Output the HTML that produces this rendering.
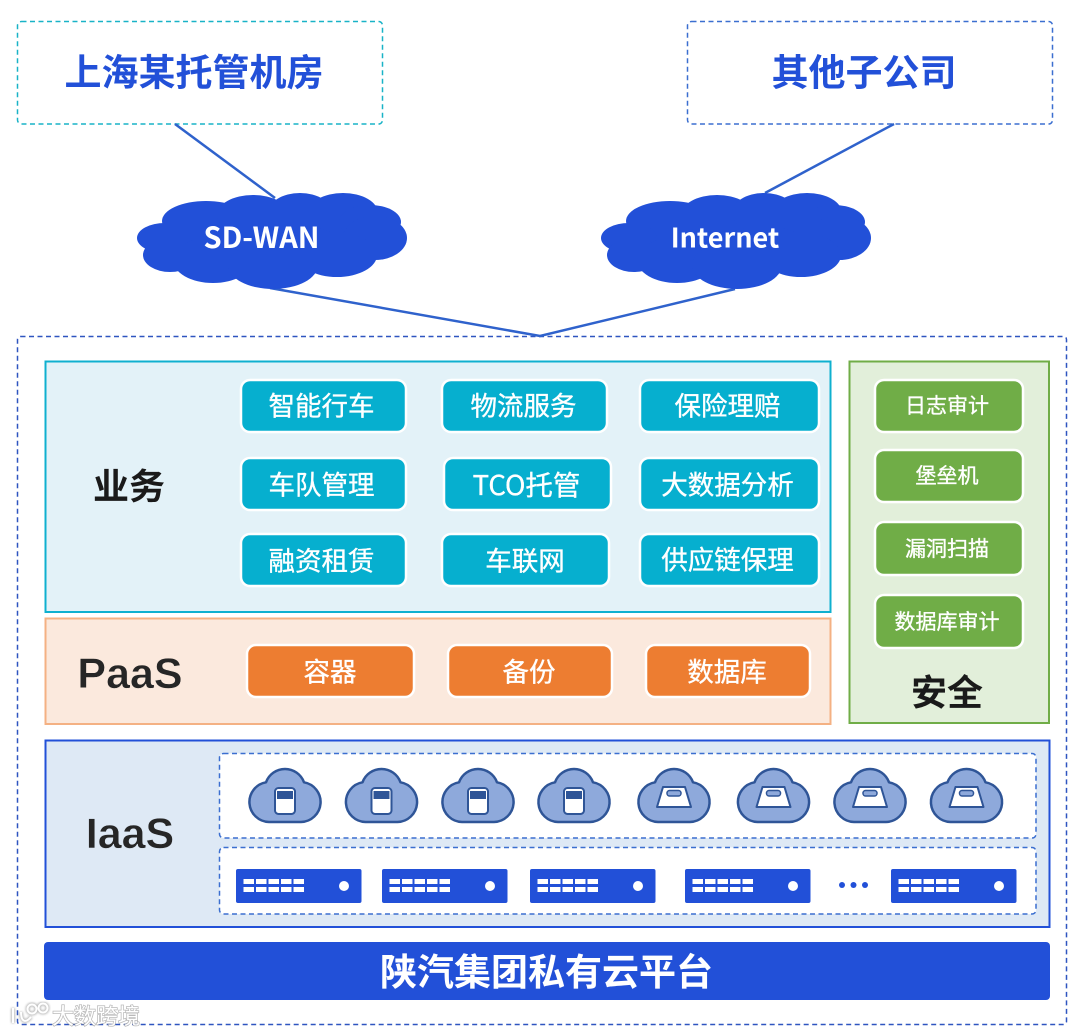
<!DOCTYPE html>
<html><head><meta charset="utf-8"><style>
html,body{margin:0;padding:0;background:#fff}
svg{display:block}
text{font-family:"Liberation Sans","Noto Sans CJK SC",sans-serif;text-anchor:middle;dominant-baseline:central}
.c{font-family:"Noto Sans CJK SC","Liberation Sans",sans-serif}
.b{font-weight:700;fill:#2250d8}
.k{font-weight:700;fill:#1a1a1a}
.w{fill:#fff}
.m{stroke:#fff;stroke-width:.35}
.p{stroke:#fff;stroke-width:2.5}
</style></head><body>
<svg width="1080" height="1036" viewBox="0 0 1080 1036" xmlns="http://www.w3.org/2000/svg">
<defs>
<g id="cloud" fill="#2250d8">
<ellipse cx="128" cy="48" rx="110" ry="35"/>
<ellipse cx="69" cy="29" rx="44" ry="20"/><ellipse cx="116" cy="23" rx="36" ry="20"/>
<ellipse cx="163" cy="21" rx="32" ry="20"/><ellipse cx="206" cy="21" rx="35" ry="20"/>
<ellipse cx="233" cy="30" rx="31" ry="17"/><ellipse cx="238" cy="46" rx="32" ry="22"/>
<ellipse cx="28" cy="46" rx="28" ry="15"/><ellipse cx="33" cy="63" rx="27" ry="17"/>
<ellipse cx="76" cy="68" rx="40" ry="23"/><ellipse cx="136" cy="73" rx="45" ry="24"/>
<ellipse cx="200" cy="63" rx="40" ry="22"/>
</g>
<path id="cl" d="M20 53A20 20 0 0 1 17 13.300A20.200 20.200 0 0 1 55 13.300A20 20 0 0 1 52 53Z" fill="#8ea9db" stroke="#2f5597" stroke-width="2.500" stroke-linejoin="round"/>
<g id="ic1"><use href="#cl"/><rect x="26" y="19" width="20" height="26" rx="3.500" fill="#fff" stroke="#2f5597" stroke-width="2"/><rect x="28" y="22" width="16" height="8" fill="#2f5597"/></g>
<g id="ic2"><use href="#cl"/><path d="M25 18H47L53 38H19Z" fill="#fff" stroke="#2f5597" stroke-width="2" stroke-linejoin="round"/><rect x="29" y="21.500" width="14" height="5.500" rx="2.500" fill="#8ea9db" stroke="#2f5597" stroke-width="1.500"/></g>
<g id="srv"><rect width="125.500" height="34" rx="2" fill="#2250d8"/>
<g fill="#fff">
<rect x="7.500" y="10" width="10.500" height="5"/><rect x="20" y="10" width="10.500" height="5"/><rect x="32.500" y="10" width="10.500" height="5"/><rect x="45" y="10" width="10.500" height="5"/><rect x="57.500" y="10" width="10.500" height="5"/>
<rect x="7.500" y="18" width="10.500" height="5"/><rect x="20" y="18" width="10.500" height="5"/><rect x="32.500" y="18" width="10.500" height="5"/><rect x="45" y="18" width="10.500" height="5"/><rect x="57.500" y="18" width="10.500" height="5"/>
<circle cx="108" cy="17" r="5"/></g></g>
<filter id="bl"><feGaussianBlur stdDeviation="1"/></filter>
</defs>

<rect x="17.500" y="21.500" width="365" height="102.500" rx="4" fill="#fff" stroke="#19b3c7" stroke-width="1.500" stroke-dasharray="5 3.500"/>
<rect x="687.500" y="21.500" width="365" height="102.500" rx="4" fill="#fff" stroke="#3b6fd0" stroke-width="1.500" stroke-dasharray="5 3.500"/>
<text class="c b" x="194" y="69.500" font-size="37">上海某托管机房</text>
<text class="c b" x="864" y="69.500" font-size="37">其他子公司</text>

<g fill="none" stroke="#2f62cc" stroke-width="2.500">
<path d="M175 124L275 198"/><path d="M894 124L765 193"/>
</g>
<rect x="17.500" y="336.500" width="1049" height="688" rx="3" fill="none" stroke="#2f55c0" stroke-width="1.500" stroke-dasharray="5 3.500"/>
<path d="M270 288L540 336L735 289" fill="none" stroke="#2f62cc" stroke-width="2.500"/>

<use href="#cloud" x="137" y="192"/>
<use href="#cloud" x="601" y="192"/>
<text class="c w" x="261.500" y="236" font-size="29" font-weight="700">SD-WAN</text>
<text class="c w" x="725" y="236" font-size="27" font-weight="700">Internet</text>

<rect x="45.500" y="361.500" width="785" height="250.500" fill="#e3f2f8" stroke="#0fb0cf" stroke-width="2"/>
<rect x="45.500" y="618.500" width="785" height="105.500" fill="#fbe9dd" stroke="#f4b183" stroke-width="2"/>
<rect x="849.500" y="361.500" width="199.500" height="361.500" fill="#e2efda" stroke="#70ad47" stroke-width="2"/>
<rect x="45.500" y="740.500" width="1004" height="186.500" fill="#dee9f5" stroke="#2250d8" stroke-width="2"/>

<text class="c k" x="129" y="484" font-size="36">业务</text>
<text x="130" y="674" font-size="43" font-weight="700" fill="#262626" stroke="#fbe9dd" stroke-width=".5">PaaS</text>
<text x="130" y="834" font-size="43" font-weight="700" fill="#262626" stroke="#dee9f5" stroke-width=".5">IaaS</text>
<text class="c k" x="947" y="690" font-size="36">安全</text>

<g fill="#06afcf">
<rect class="p" x="241" y="380" width="165" height="52" rx="9"/><rect class="p" x="442" y="380" width="165" height="52" rx="9"/><rect class="p" x="640" y="380" width="179" height="52" rx="9"/>
<rect class="p" x="241" y="458" width="165" height="52" rx="9"/><rect class="p" x="444" y="458" width="167" height="52" rx="9"/><rect class="p" x="640" y="458" width="179" height="52" rx="9"/>
<rect class="p" x="241" y="534" width="165" height="52" rx="9"/><rect class="p" x="442" y="534" width="167" height="52" rx="9"/><rect class="p" x="640" y="534" width="179" height="52" rx="9"/>
</g>
<text class="c w m" x="321.500" y="404" font-size="26.500">智能行车</text><text class="c w m" x="523.500" y="404" font-size="26.500">物流服务</text><text class="c w m" x="727.500" y="404" font-size="26.500">保险理赔</text>
<text class="c w m" x="321.500" y="483" font-size="26.500">车队管理</text><text class="c w m" x="526.500" y="483" font-size="27.500">TCO托管</text><text class="c w m" x="727.500" y="483" font-size="26.500">大数据分析</text>
<text class="c w m" x="321.500" y="559" font-size="26.500">融资租赁</text><text class="c w m" x="525" y="559" font-size="26.500">车联网</text><text class="c w m" x="727.500" y="558" font-size="26.500">供应链保理</text>

<g fill="#ed7d31">
<rect class="p" x="247" y="645" width="167" height="52" rx="9"/><rect class="p" x="448" y="645" width="164" height="52" rx="9"/><rect class="p" x="646" y="645" width="164" height="52" rx="9"/>
</g>
<text class="c w m" x="330" y="670" font-size="26.500">容器</text><text class="c w m" x="529" y="670" font-size="26.500">备份</text><text class="c w m" x="727" y="670" font-size="26.500">数据库</text>

<g fill="#70ad47">
<rect class="p" x="875" y="380" width="148" height="52" rx="9"/><rect class="p" x="875" y="450" width="148" height="52" rx="9"/><rect class="p" x="875" y="522" width="148" height="53" rx="9"/><rect class="p" x="875" y="595" width="148" height="53" rx="9"/>
</g>
<text class="c w m" x="947" y="405" font-size="21">日志审计</text><text class="c w m" x="947" y="475" font-size="21">堡垒机</text><text class="c w m" x="947" y="548" font-size="21">漏洞扫描</text><text class="c w m" x="947" y="621" font-size="21">数据库审计</text>

<rect x="219.500" y="753.500" width="816.500" height="84.500" rx="4" fill="#fff" stroke="#3b6fd0" stroke-width="1.500" stroke-dasharray="5 3.500"/>
<rect x="219.500" y="847.500" width="816.500" height="66.500" rx="4" fill="#fff" stroke="#3b6fd0" stroke-width="1.500" stroke-dasharray="5 3.500"/>

<use href="#ic1" x="249" y="769"/><use href="#ic1" x="345.500" y="769"/><use href="#ic1" x="442" y="769"/><use href="#ic1" x="538" y="769"/>
<use href="#ic2" x="638" y="769"/><use href="#ic2" x="737.500" y="769"/><use href="#ic2" x="834" y="769"/><use href="#ic2" x="930.500" y="769"/>

<use href="#srv" x="236" y="869"/><use href="#srv" x="382" y="869"/><use href="#srv" x="530" y="869"/><use href="#srv" x="685" y="869"/><use href="#srv" x="891" y="869"/>
<g fill="#2250d8"><circle cx="842" cy="885" r="3"/><circle cx="853.500" cy="885" r="3"/><circle cx="865" cy="885" r="3"/></g>

<rect x="44" y="942" width="1006" height="58" rx="4" fill="#2250d8"/>
<text class="c w" x="546.500" y="969" font-size="37" font-weight="700">陕汽集团私有云平台</text>

<g fill="none" stroke="#777" stroke-width="4" opacity=".5" filter="url(#bl)"><path d="M13 1008V1023M21 1012C21 1021 25 1024 31 1017"/><circle cx="32" cy="1009" r="4.500"/><circle cx="43" cy="1008" r="4.500"/></g>
<g fill="none" stroke="#fff" stroke-width="2"><path d="M13 1008V1023M21 1012C21 1021 25 1024 31 1017"/><circle cx="32" cy="1009" r="4.500"/><circle cx="43" cy="1008" r="4.500"/></g>
<text class="c" x="96" y="1015" font-size="22" fill="#fff" stroke="#8a8a8a" stroke-width="1.500" stroke-opacity=".6" paint-order="stroke">大数跨境</text>
</svg>
</body></html>
